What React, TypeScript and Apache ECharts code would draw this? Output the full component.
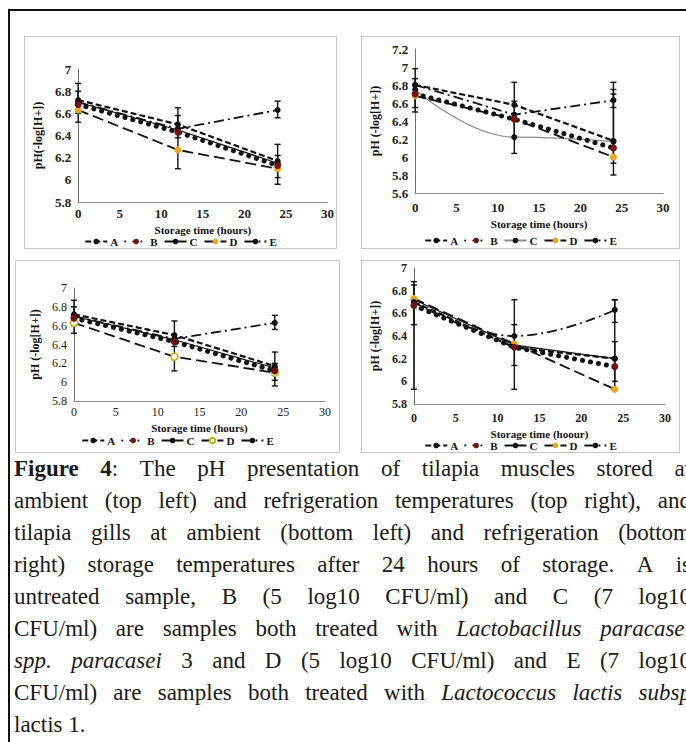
import React, { useEffect, useRef } from "react";
import * as echarts from "echarts";

// ---------- data ----------
const hours = [0, 12, 24];
const seriesNames = ["A", "B", "C", "D", "E"];

// top left: muscles, ambient
const muscleAmbA = [6.72, 6.5, 6.17];
const muscleAmbB = [6.68, 6.43, 6.13];
const muscleAmbC = [6.7, 6.45, 6.15];
const muscleAmbD = [6.63, 6.27, 6.1];
const muscleAmbE = [6.7, 6.46, 6.63];
const muscleAmbErr = [
  [0, 6.52, 6.87], [0, 6.6, 6.8],
  [12, 6.1, 6.44], [12, 6.38, 6.65], [12, 6.44, 6.58],
  [24, 5.96, 6.22], [24, 6.02, 6.32], [24, 6.56, 6.71],
];

// top right: muscles, refrigeration
const muscleRefA = [6.8, 6.58, 6.18];
const muscleRefB = [6.7, 6.42, 6.1];
const muscleRefC = [6.75, 6.22, 6.17];
const muscleRefD = [6.68, 6.42, 6.0];
const muscleRefE = [6.8, 6.47, 6.63];
const muscleRefErr = [
  [0, 6.5, 6.98], [0, 6.55, 6.87],
  [12, 6.04, 6.83], [12, 6.22, 6.62],
  [24, 5.8, 6.83], [24, 5.93, 6.7], [24, 6.55, 6.75],
];

// bottom left: gills, ambient
const gillAmbA = [6.72, 6.5, 6.17];
const gillAmbB = [6.68, 6.43, 6.12];
const gillAmbC = [6.7, 6.45, 6.15];
const gillAmbD = [6.63, 6.27, 6.1];
const gillAmbE = [6.7, 6.46, 6.63];
const gillAmbErr = [
  [0, 6.52, 6.87], [0, 6.6, 6.8],
  [12, 6.12, 6.45], [12, 6.38, 6.65],
  [24, 5.96, 6.32], [24, 6.02, 6.2], [24, 6.56, 6.71],
];

// bottom right: gills, refrigeration
const gillRefA = [6.7, 6.3, 6.2];
const gillRefB = [6.67, 6.3, 6.13];
const gillRefC = [6.72, 6.32, 6.2];
const gillRefD = [6.73, 6.33, 5.93];
const gillRefE = [6.7, 6.4, 6.63];
const gillRefErr = [
  [0, 5.93, 6.88], [0, 6.5, 6.85],
  [12, 5.93, 6.72], [12, 6.14, 6.5],
  [24, 5.93, 6.72], [24, 6.0, 6.35], [24, 6.52, 6.72],
];

const captionLines = [
  "**Figure** **4**: The pH presentation of tilapia muscles stored at",
  "ambient (top left) and refrigeration temperatures (top right), and",
  "tilapia gills at ambient (bottom left) and refrigeration (bottom",
  "right) storage temperatures after 24 hours of storage. A is",
  "untreated sample, B (5 log10 CFU/ml) and C (7 log10",
  "CFU/ml) are samples both treated with _Lactobacillus_ _paracasei_",
  "_spp._ _paracasei_ 3 and D (5 log10 CFU/ml) and E (7 log10",
  "CFU/ml) are samples both treated with _Lactococcus_ _lactis_ _subsp_",
];
const captionLast = "lactis 1.";

// ---------- styles ----------
const FONT = "'Liberation Serif', 'Times New Roman', serif";

const seriesStyle: Record<string, any> = {
  A: { type: [6, 3], width: 2.2, marker: "#111", size: 6 },
  B: { type: [0.1, 8], width: 5, marker: "#6e1414", size: 7, cap: "round" },
  C: { type: "solid", width: 1.2, marker: "#111", size: 6 },
  D: { type: [11, 5], width: 1.8, marker: "#eca41a", size: 7 },
  E: { type: [10, 4, 2, 4], width: 1.8, marker: "#111", size: 6 },
};

type PanelCfg = {
  box: { left: number; top: number; width: number; height: number };
  grid: { left: number; top: number; width: number; height: number };
  yMin: number;
  yMax: number;
  yName: string;
  xName: string;
  values: number[][];
  errors: number[][];
  tickSize: number;
  tickWeight: string;
  nameSize: number;
  xLabelMargin: number;
  xNameGap: number;
  yNameGap: number;
  legendTop: number;
  cColor?: string;
  cSmooth?: boolean;
  eSmooth?: boolean;
  dHollow?: boolean;
};

const panels: PanelCfg[] = [
  {
    box: { left: 24, top: 36, width: 313, height: 213 },
    grid: { left: 44, top: 33, width: 260, height: 133 },
    yMin: 5.8, yMax: 7, yName: "pH(-log[H+])", xName: "Storage time (hours)",
    values: [muscleAmbA, muscleAmbB, muscleAmbC, muscleAmbD, muscleAmbE],
    errors: muscleAmbErr, tickSize: 13, tickWeight: "bold", nameSize: 11, xLabelMargin: 5,
    xNameGap: 20, yNameGap: 24, legendTop: 200,
  },
  {
    box: { left: 361, top: 36, width: 319, height: 213 },
    grid: { left: 51, top: 13, width: 251, height: 144 },
    yMin: 5.6, yMax: 7.2, yName: "pH (-log[H+])", xName: "Storage time (hours)",
    values: [muscleRefA, muscleRefB, muscleRefC, muscleRefD, muscleRefE],
    errors: muscleRefErr, tickSize: 13, tickWeight: "bold", nameSize: 11, xLabelMargin: 8,
    xNameGap: 23, yNameGap: 28, legendTop: 199, cColor: "#8a8a8a", cSmooth: true,
  },
  {
    box: { left: 15, top: 260, width: 325, height: 193 },
    grid: { left: 59, top: 28, width: 251, height: 113 },
    yMin: 5.8, yMax: 7, yName: "pH (-log[H+])", xName: "Storage time (hours)",
    values: [gillAmbA, gillAmbB, gillAmbC, gillAmbD, gillAmbE],
    errors: gillAmbErr, tickSize: 12, tickWeight: "normal", nameSize: 11, xLabelMargin: 5,
    xNameGap: 19, yNameGap: 30, legendTop: 175, dHollow: true,
  },
  {
    box: { left: 361, top: 260, width: 319, height: 193 },
    grid: { left: 47, top: 8, width: 257, height: 136 },
    yMin: 5.8, yMax: 7, yName: "pH (-log[H+])", xName: "Storage time (hoour)",
    values: [gillRefA, gillRefB, gillRefC, gillRefD, gillRefE],
    errors: gillRefErr, tickSize: 12, tickWeight: "bold", nameSize: 11, xLabelMargin: 8,
    xNameGap: 17, yNameGap: 25, legendTop: 180, eSmooth: true,
  },
];

function buildOption(cfg: PanelCfg) {
  const lineSeries = seriesNames.map((name, si) => {
    const st = seriesStyle[name];
    const isC = name === "C";
    const hollowD = name === "D" && cfg.dHollow;
    const smooth = (isC && cfg.cSmooth) || (name === "E" && cfg.eSmooth);
    return {
      type: "line",
      name,
      data: hours.map((h, i) => [h, cfg.values[si][i]]),
      smooth: smooth ? 0.45 : false,
      smoothMonotone: "x",
      symbol: "circle",
      symbolSize: st.size,
      showSymbol: true,
      z: name === "B" ? 4 : 3,
      lineStyle: {
        color: isC && cfg.cColor ? cfg.cColor : "#111",
        width: st.width,
        type: st.type,
        cap: st.cap || "butt",
      },
      itemStyle: hollowD
        ? { color: "#ffffff", borderColor: "#c9b000", borderWidth: 1.5 }
        : { color: st.marker, borderWidth: 0 },
    };
  });

  const errSeries = {
    type: "custom",
    name: "err",
    silent: true,
    z: 2,
    data: cfg.errors,
    encode: { x: 0, y: [1, 2] },
    renderItem: (_params: any, api: any) => {
      const x = api.value(0);
      const p1 = api.coord([x, api.value(2)]);
      const p2 = api.coord([x, api.value(1)]);
      const w = 3;
      const s = { stroke: "#111", lineWidth: 1.4 };
      return {
        type: "group",
        children: [
          { type: "line", shape: { x1: p1[0], y1: p1[1], x2: p2[0], y2: p2[1] }, style: s },
          { type: "line", shape: { x1: p1[0] - w, y1: p1[1], x2: p1[0] + w, y2: p1[1] }, style: s },
          { type: "line", shape: { x1: p2[0] - w, y1: p2[1], x2: p2[0] + w, y2: p2[1] }, style: s },
        ],
      };
    },
  };

  return {
    animation: false,
    backgroundColor: "#ffffff",
    textStyle: { fontFamily: FONT },
    grid: { ...cfg.grid, containLabel: false },
    legend: {
      data: seriesNames,
      top: cfg.legendTop,
      left: "center",
      padding: 0,
      itemWidth: 22,
      itemHeight: 7,
      itemGap: 6,
      selectedMode: false,
      textStyle: {
        fontFamily: FONT,
        fontWeight: "bold",
        fontSize: 11,
        lineHeight: 11,
        color: "#111",
        padding: [0, 0, 0, -2],
      },
    },
    xAxis: {
      type: "value",
      min: 0,
      max: 30,
      interval: 5,
      name: cfg.xName,
      nameLocation: "middle",
      nameGap: cfg.xNameGap,
      nameTextStyle: {
        fontFamily: FONT,
        fontWeight: "bold",
        fontSize: cfg.nameSize,
        lineHeight: cfg.nameSize,
        color: "#111",
      },
      axisLine: { show: true, lineStyle: { color: "#8c8c8c", width: 1 } },
      axisTick: { show: false },
      splitLine: { show: false },
      axisLabel: {
        fontFamily: FONT,
        fontSize: cfg.tickSize,
        fontWeight: cfg.tickWeight,
        color: "#222",
        margin: cfg.xLabelMargin,
      },
    },
    yAxis: {
      type: "value",
      min: cfg.yMin,
      max: cfg.yMax,
      interval: 0.2,
      name: cfg.yName,
      nameLocation: "middle",
      nameRotate: 90,
      nameGap: cfg.yNameGap,
      nameTextStyle: { fontFamily: FONT, fontWeight: "bold", fontSize: cfg.nameSize + 1, color: "#111" },
      axisLine: { show: true, onZero: false, lineStyle: { color: "#6e6e6e", width: 1 } },
      axisTick: { show: false },
      splitLine: { show: false },
      axisLabel: {
        fontFamily: FONT,
        fontSize: cfg.tickSize,
        fontWeight: cfg.tickWeight,
        color: "#222",
        margin: 7,
        formatter: (v: number) => String(Math.round(v * 10) / 10),
      },
    },
    series: [errSeries, ...lineSeries],
  };
}

function Panel({ cfg }: { cfg: PanelCfg }) {
  const ref = useRef<HTMLDivElement>(null);
  useEffect(() => {
    const chart = echarts.init(ref.current as HTMLDivElement, null, { renderer: "svg" });
    chart.setOption(buildOption(cfg) as any);
    return () => chart.dispose();
  }, [cfg]);
  const { left, top, width, height } = cfg.box;
  return (
    <>
      <div ref={ref} style={{ position: "absolute", left, top, width, height }} />
      <div
        style={{
          position: "absolute",
          left,
          top,
          width,
          height,
          boxSizing: "border-box",
          border: "1px solid #c6c6c6",
          pointerEvents: "none",
        }}
      />
    </>
  );
}

function renderWord(word: string, key: number) {
  const parts: React.ReactNode[] = [];
  const re = /\*\*(.+?)\*\*|_(.+?)_|([^*_]+)/g;
  let m: RegExpExecArray | null;
  let k = 0;
  while ((m = re.exec(word)) !== null) {
    if (m[1] !== undefined) parts.push(<b key={k++}>{m[1]}</b>);
    else if (m[2] !== undefined) parts.push(<i key={k++}>{m[2]}</i>);
    else parts.push(<span key={k++}>{m[3]}</span>);
  }
  return <span key={key}>{parts}</span>;
}

export default function App() {
  return (
    <div
      style={{
        position: "fixed",
        left: 0,
        top: 0,
        width: 686,
        height: 742,
        overflow: "hidden",
        background: "#ffffff",
      }}
    >
      <div
        style={{
          position: "absolute",
          left: 8,
          top: 9,
          width: 760,
          height: 800,
          borderLeft: "2px solid #111",
          borderTop: "2.5px solid #111",
        }}
      />
      {panels.map((p, i) => (
        <Panel key={i} cfg={p} />
      ))}
      <div
        style={{
          position: "absolute",
          left: 14,
          top: 453,
          width: 677,
          fontFamily: FONT,
          fontSize: 23,
          lineHeight: "32px",
          color: "#1a1a1a",
        }}
      >
        {captionLines.map((line, i) => (
          <div
            key={i}
            style={{ display: "flex", justifyContent: "space-between", columnGap: 4, whiteSpace: "nowrap", height: 32 }}
          >
            {line.split(" ").map((w, j) => renderWord(w, j))}
          </div>
        ))}
        <div style={{ whiteSpace: "nowrap", height: 32 }}>{captionLast}</div>
      </div>
    </div>
  );
}
